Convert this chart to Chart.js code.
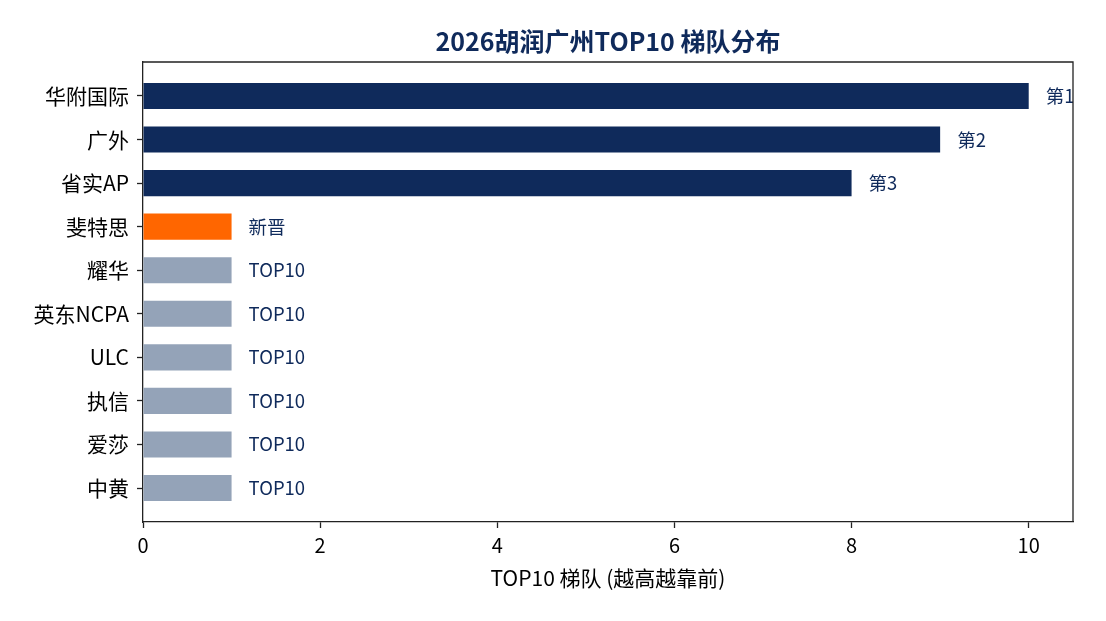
<!DOCTYPE html>
<html>
<head>
<meta charset="utf-8">
<script src="https://cdn.jsdelivr.net/npm/chart.js@4.4.1/dist/chart.umd.min.js"></script>
<style>
  html, body { margin: 0; padding: 0; background: #fff; }
</style>
</head>
<body>
<canvas id="chart" width="1106" height="621"></canvas>
<script>
// data
var categories = ['华附国际', '广外', '省实AP', '斐特思', '耀华', '英东NCPA', 'ULC', '执信', '爱莎', '中黄'];
var tierValues = [10, 9, 8, 1, 1, 1, 1, 1, 1, 1];
var tierTags = ['第1', '第2', '第3', '新晋', 'TOP10', 'TOP10', 'TOP10', 'TOP10', 'TOP10', 'TOP10'];
var xTickValues = [0, 2, 4, 6, 8, 10];

var NAVY = '#0f2a5b';
var FONT = '"Noto Sans CJK SC", "Noto Sans", sans-serif';

function colorFor(tag) {
  if (tag === '新晋') return '#ff6600';
  if (tag === 'TOP10') return '#94a3b8';
  return NAVY;
}

// title, top/right frame and the text after each bar
var extras = {
  id: 'extras',
  afterDatasetsDraw: function(chart) {
    var ctx = chart.ctx, a = chart.chartArea;
    var bars = chart.getDatasetMeta(0).data;
    ctx.save();
    ctx.beginPath();
    ctx.rect(a.left, a.top, a.right - a.left, a.bottom - a.top);
    ctx.clip();
    ctx.fillStyle = NAVY;
    ctx.font = '18.5px ' + FONT;
    ctx.textAlign = 'left';
    ctx.textBaseline = 'middle';
    bars.forEach(function(b, i) {
      ctx.fillText(tierTags[i], b.x + 17, b.y);
    });
    ctx.restore();
  },
  afterDraw: function(chart) {
    var ctx = chart.ctx, a = chart.chartArea;
    ctx.save();
    ctx.strokeStyle = '#222';
    ctx.lineWidth = 1.3;
    ctx.beginPath();
    ctx.moveTo(a.left, a.top);
    ctx.lineTo(a.right, a.top);
    ctx.lineTo(a.right, a.bottom);
    ctx.stroke();
    ctx.fillStyle = NAVY;
    ctx.font = 'bold 25px ' + FONT;
    ctx.textAlign = 'center';
    ctx.textBaseline = 'middle';
    ctx.fillText('2026胡润广州TOP10 梯队分布', (a.left + a.right) / 2, 41);
    ctx.restore();
  }
};

new Chart(document.getElementById('chart'), {
  type: 'bar',
  data: {
    labels: categories,
    datasets: [{
      data: tierValues.map(function(v, i) { return { x: v, y: i }; }),
      backgroundColor: tierTags.map(colorFor),
      borderWidth: 0,
      categoryPercentage: 1,
      barPercentage: 0.6
    }]
  },
  options: {
    indexAxis: 'y',
    responsive: false,
    devicePixelRatio: 1,
    animation: false,
    layout: { padding: { left: 0, top: 62, right: 33, bottom: 0 } },
    plugins: { legend: { display: false }, tooltip: { enabled: false } },
    scales: {
      x: {
        type: 'linear',
        min: 0,
        max: 10.5,
        offset: false,
        afterBuildTicks: function(s) { s.ticks = xTickValues.map(function(v) { return { value: v }; }); },
        afterFit: function(s) { s.height = 99; },
        ticks: { color: '#000', font: { family: FONT, size: 20 }, padding: 5, maxRotation: 0 },
        grid: { offset: false, drawOnChartArea: false, drawTicks: true, tickLength: 6, color: '#222', tickWidth: 1.3 },
        border: { display: true, color: '#222', width: 1.3 },
        title: {
          display: true,
          text: 'TOP10 梯队 (越高越靠前)',
          color: '#000',
          font: { family: FONT, size: 21 },
          padding: { top: 0, bottom: 30 }
        }
      },
      y: {
        type: 'linear',
        min: -0.78,
        max: 9.78,
        reverse: true,
        offset: false,
        afterBuildTicks: function(s) { s.ticks = categories.map(function(c, i) { return { value: i }; }); },
        afterFit: function(s) { s.width = 143; },
        ticks: {
          color: '#000',
          font: { family: FONT, size: 21 },
          padding: 8,
          callback: function(v) { return categories[v]; }
        },
        grid: { offset: false, drawOnChartArea: false, drawTicks: true, tickLength: 6, color: '#222', tickWidth: 1.3 },
        border: { display: true, color: '#222', width: 1.3 }
      }
    }
  },
  plugins: [extras]
});
</script>
</body>
</html>
